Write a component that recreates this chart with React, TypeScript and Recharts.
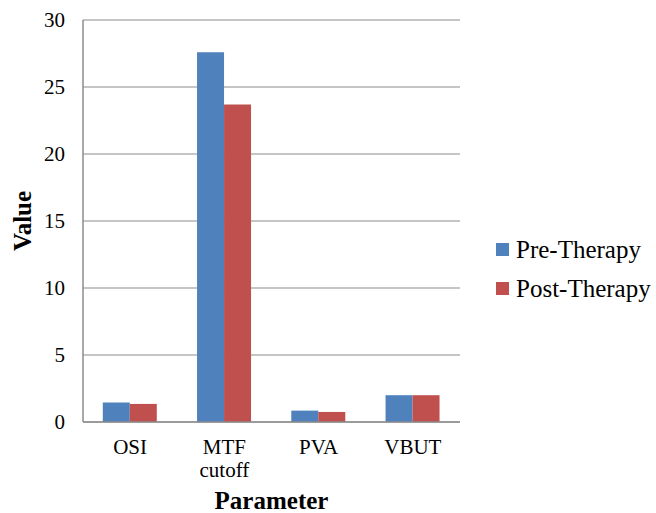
import { BarChart, Bar, XAxis, YAxis, CartesianGrid, Label } from "recharts";

const categories = ["OSI", "MTF cutoff", "PVA", "VBUT"];
const preTherapy = [1.45, 27.6, 0.85, 2.0];
const postTherapy = [1.35, 23.7, 0.75, 2.0];
const yTicks = [0, 5, 10, 15, 20, 25, 30];

const data = categories.map((name, i) => ({
  name,
  pre: preTherapy[i],
  post: postTherapy[i],
}));

const series = [
  { key: "pre", label: "Pre-Therapy", color: "#4F81BD" },
  { key: "post", label: "Post-Therapy", color: "#C0504D" },
];

const FONT = "Liberation Serif, Times New Roman, serif";

const CategoryTick = ({ x, y, payload }: any) => {
  const lines = String(payload.value).split(" ");
  return (
    <text x={x} y={y} textAnchor="middle" fontFamily={FONT} fontSize={21} fill="#000">
      {lines.map((line, i) => (
        <tspan key={i} x={x} dy={i === 0 ? 24 : 23}>
          {line}
        </tspan>
      ))}
    </text>
  );
};

export default function App() {
  return (
    <div style={{ position: "absolute", left: 0, top: 0, width: 656, height: 513, background: "#fff" }}>
      <BarChart
        width={656}
        height={513}
        data={data}
        margin={{ top: 20, right: 196, left: 0, bottom: 0 }}
        barCategoryGap="21%"
        barGap={0}
      >
        <CartesianGrid vertical={false} stroke="#8c8c8c" strokeWidth={1.2} />
        <XAxis
          dataKey="name"
          height={91}
          axisLine={{ stroke: "#8c8c8c", strokeWidth: 1.5 }}
          tickLine={false}
          tick={<CategoryTick />}
          interval={0}
        >
          <Label
            value="Parameter"
            position="insideBottom"
            offset={4}
            style={{ fontFamily: FONT, fontSize: 25, fontWeight: "bold", fill: "#000" }}
          />
        </XAxis>
        <YAxis
          width={83}
          domain={[0, 30]}
          ticks={yTicks}
          axisLine={{ stroke: "#8c8c8c", strokeWidth: 1.5 }}
          tickLine={false}
          tickMargin={12}
          tick={{ fontFamily: FONT, fontSize: 21, fill: "#000" }}
        >
          <Label
            value="Value"
            angle={-90}
            position="insideLeft"
            offset={22}
            style={{ fontFamily: FONT, fontSize: 25, fontWeight: "bold", fill: "#000", textAnchor: "middle" }}
          />
        </YAxis>
        {series.map((s) => (
          <Bar key={s.key} dataKey={s.key} name={s.label} fill={s.color} isAnimationActive={false} />
        ))}
      </BarChart>
      <div
        style={{
          position: "absolute",
          left: 496,
          top: 230,
          fontFamily: FONT,
          fontSize: 25,
          color: "#000",
        }}
      >
        {series.map((s) => (
          <div key={s.key} style={{ display: "flex", alignItems: "center", height: 39 }}>
            <span style={{ width: 13, height: 13, background: s.color, marginRight: 7 }} />
            <span>{s.label}</span>
          </div>
        ))}
      </div>
    </div>
  );
}
